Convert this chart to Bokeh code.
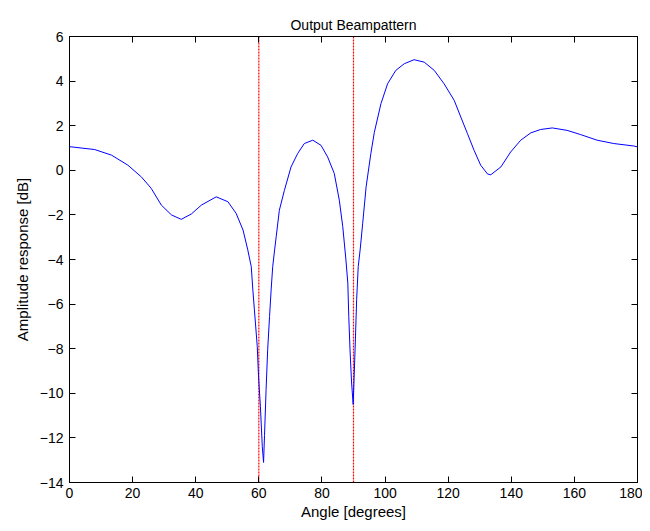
from bokeh.plotting import figure
from bokeh.models import LinearAxis, FixedTicker, Range1d, Span
from bokeh.embed import file_html
from bokeh.resources import INLINE

angle = [0, 8, 13.3, 18.5, 22.8, 25.9, 29.1, 32.3, 35.4, 38.6, 41.8, 46.5, 50.2, 52.8, 55, 56.5,
         57.6, 58.1, 58.6, 59.5, 59.9, 60.5, 61.1, 61.5, 61.8, 62.3, 62.8, 63.4, 63.9, 64.4, 65,
         65.5, 66.5, 68.1, 70.2, 72.3, 74.4, 77.1, 79.7, 81.8, 83.9, 85.5, 86.6, 87.6, 88.2, 88.5,
         88.9, 89.4, 89.9, 90.5, 91, 91.5, 92.1, 92.9, 94, 95.5, 96.6, 98.7, 100.8, 103.4, 106.1,
         109.2, 112.4, 115.6, 118.7, 121.9, 124, 126.1, 128.2, 130.3, 132.5, 133.5, 136.7, 139.8,
         143, 146.2, 149.3, 153, 157.7, 162, 167.2, 172.5, 178.8, 180]
amplitude = [1.06, 0.93, 0.68, 0.23, -0.3, -0.81, -1.56, -2.0, -2.2, -1.96, -1.56, -1.19, -1.41, -1.93,
             -2.68, -3.57, -4.32, -5.36, -6.26, -7.9, -9.24, -10.6, -12.4, -13.1, -11.9, -9.84, -8.05,
             -6.56, -5.36, -4.32, -3.57, -2.98, -1.79, -0.9, 0.15, 0.75, 1.2, 1.35, 1.12, 0.6, -0.14,
             -1.34, -2.53, -4.02, -5.06, -6.56, -8.05, -9.54, -10.5, -8.05, -5.8, -4.32, -3.57, -2.4,
             -0.74, 0.75, 1.7, 2.99, 3.88, 4.48, 4.78, 4.96, 4.85, 4.48, 3.88, 3.14, 2.39, 1.65, 0.9,
             0.23, -0.17, -0.2, 0.15, 0.82, 1.35, 1.68, 1.83, 1.9, 1.79, 1.6, 1.35, 1.2, 1.09, 1.05]
markers = [60, 90]
x_ticks = list(range(0, 181, 20))
y_ticks = list(range(-14, 7, 2))

FONT = "Liberation Sans, Arial, sans-serif"

p = figure(width=642, height=523, output_backend="svg", toolbar_location=None,
           x_range=Range1d(0, 180), y_range=Range1d(-14, 6),
           min_border_left=69, min_border_right=5, min_border_top=36, min_border_bottom=41,
           title="Output Beampattern", x_axis_label="Angle [degrees]",
           y_axis_label="Amplitude response [dB]")
p.title.align = "center"
p.title.text_font = FONT
p.title.text_font_style = "normal"
p.title.text_font_size = "14px"
p.title.text_color = "black"
p.title.offset = 0
p.title.standoff = 8
p.xgrid.visible = False
p.ygrid.visible = False
p.outline_line_color = "black"
p.outline_line_width = 1
p.background_fill_color = "white"
p.border_fill_color = "white"

for ax in p.xaxis:
    ax.ticker = FixedTicker(ticks=x_ticks)
for ax in p.yaxis:
    ax.ticker = FixedTicker(ticks=y_ticks)

for ax in list(p.xaxis) + list(p.yaxis):
    ax.major_tick_in = 6
    ax.major_tick_out = 0
    ax.minor_tick_line_color = None
    ax.axis_line_color = "black"
    ax.major_tick_line_color = "black"
    ax.major_label_text_font = FONT
    ax.major_label_text_font_size = "14px"
    ax.major_label_text_color = "black"
    ax.axis_label_text_font = FONT
    ax.axis_label_text_font_size = "15px"
    ax.axis_label_text_font_style = "normal"
    ax.axis_label_text_color = "black"
p.xaxis.major_label_standoff = 5
p.xaxis.axis_label_standoff = 2
p.yaxis.major_label_standoff = 6
p.yaxis.axis_label_standoff = 6

top = LinearAxis(ticker=FixedTicker(ticks=x_ticks), major_tick_in=6, major_tick_out=0,
                 minor_tick_line_color=None, major_label_text_font_size="1px",
                 major_label_text_color=None, major_label_standoff=0)
right = LinearAxis(ticker=FixedTicker(ticks=y_ticks), major_tick_in=6, major_tick_out=0,
                   minor_tick_line_color=None, major_label_text_font_size="1px",
                   major_label_text_color=None, major_label_standoff=0)
p.add_layout(top, "above")
p.add_layout(right, "right")

for m in markers:
    p.add_layout(Span(location=m, dimension="height", line_color="#ff0000",
                      line_width=1.2, line_dash="2 1", level="underlay"))
p.line(angle, amplitude, line_color="#0000ff", line_width=1)

open("out.html", "w").write(file_html(p, INLINE))
